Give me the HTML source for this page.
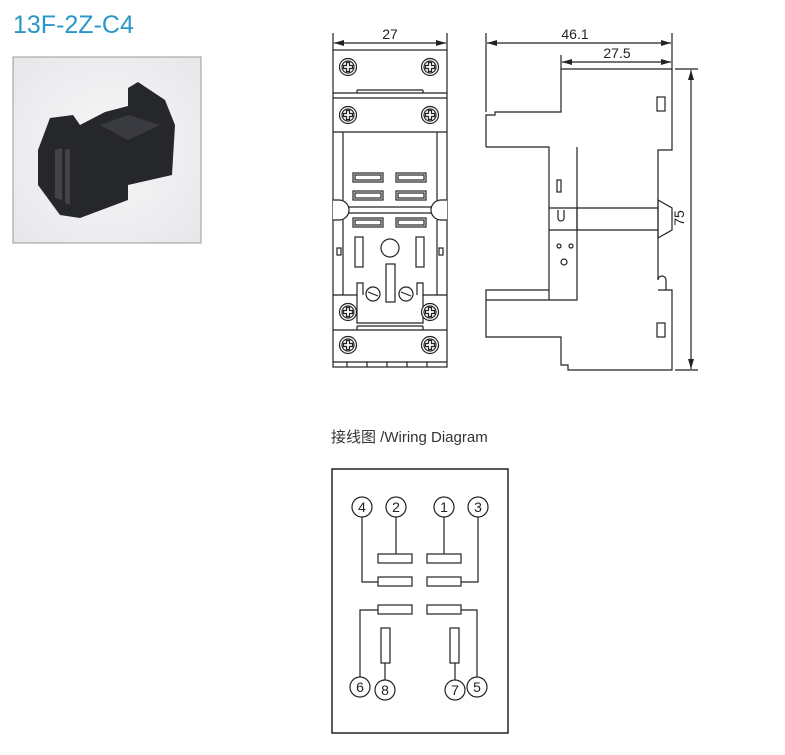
<!DOCTYPE html>
<html><head><style>
body{margin:0;background:#fff;width:785px;height:750px;overflow:hidden}
</style></head><body>
<svg width="785" height="750" xmlns="http://www.w3.org/2000/svg" font-family="Liberation Sans, sans-serif">
<text x="13" y="33" font-size="25" fill="#2a97c6">13F-2Z-C4</text>
<defs>
<radialGradient id="bg" cx="0.5" cy="0.5" r="0.7"><stop offset="0" stop-color="#f7f7f8"/><stop offset="1" stop-color="#e6e7e9"/></radialGradient>
<marker id="ar" viewBox="0 0 10 6" refX="10" refY="3" markerWidth="10" markerHeight="6" orient="auto-start-reverse" markerUnits="userSpaceOnUse"><path d="M0,0L10,3L0,6Z" fill="#222"/></marker>
</defs>
<rect x="13" y="57" width="188" height="186" fill="url(#bg)" stroke="#999" stroke-width="1"/>
<path d="M38,150 L50,118 L73,115 L80,125 L105,112 L128,106 L128,88 L138,82 L165,100 L175,125 L172,175 L128,185 L128,200 L80,218 L60,215 L38,185 Z" fill="#26272b"/>
<path d="M100,125 L128,115 L160,125 L128,140Z" fill="#3a3b40"/>
<path d="M55,150 L62,148 L62,200 L55,198Z M65,150 L70,149 L70,205 L65,203Z" fill="#444"/>
<g fill="none" stroke="#222" stroke-width="1.2">
<!-- front view -->
<line x1="333" y1="33" x2="333" y2="50"/><line x1="447" y1="33" x2="447" y2="50"/>
<line x1="334" y1="43" x2="446" y2="43" marker-start="url(#ar)" marker-end="url(#ar)"/>
<rect x="333" y="50" width="114" height="317"/>
<line x1="333" y1="93" x2="447" y2="93"/><line x1="333" y1="98" x2="447" y2="98"/>
<line x1="357" y1="93" x2="357" y2="90"/><line x1="357" y1="90" x2="423" y2="90"/><line x1="423" y1="90" x2="423" y2="93"/>
<line x1="333" y1="132" x2="447" y2="132"/>
<line x1="343" y1="132" x2="343" y2="200"/><line x1="437" y1="132" x2="437" y2="200"/>
<line x1="343" y1="220" x2="343" y2="295"/><line x1="437" y1="220" x2="437" y2="295"/>
<path d="M333,200 h6 a10,10 0 0 1 0,20 h-6" fill="#fff"/>
<path d="M447,200 h-6 a10,10 0 0 0 0,20 h6" fill="#fff"/>
<line x1="349" y1="207" x2="431" y2="207"/><line x1="349" y1="213" x2="431" y2="213"/>
<rect x="353" y="173" width="30" height="9"/><rect x="396" y="173" width="30" height="9"/>
<rect x="353" y="191" width="30" height="9"/><rect x="396" y="191" width="30" height="9"/>
<rect x="353" y="218" width="30" height="9"/><rect x="396" y="218" width="30" height="9"/>
<rect x="355" y="175" width="26" height="5"/><rect x="398" y="175" width="26" height="5"/>
<rect x="355" y="193" width="26" height="5"/><rect x="398" y="193" width="26" height="5"/>
<rect x="355" y="220" width="26" height="5"/><rect x="398" y="220" width="26" height="5"/>
<rect x="355" y="237" width="8" height="30"/><rect x="416" y="237" width="8" height="30"/>
<rect x="337" y="248" width="4" height="7"/><rect x="439" y="248" width="4" height="7"/>
<circle cx="390" cy="248" r="9"/>
<rect x="386" y="264" width="9" height="38"/>
<circle cx="373" cy="294" r="7"/><circle cx="406" cy="294" r="7"/>
<line x1="368" y1="292" x2="378" y2="296"/><line x1="401" y1="292" x2="411" y2="296"/>
<path d="M333,295 h24 v-12 h6 v12 M447,295 h-24 v-12 h-6 v12"/>
<path d="M357,295 v28 h66 v-28"/>
<line x1="333" y1="330" x2="447" y2="330"/><line x1="357" y1="330" x2="357" y2="326"/><line x1="357" y1="326" x2="423" y2="326"/><line x1="423" y1="326" x2="423" y2="330"/>
<line x1="333" y1="362" x2="447" y2="362"/>
<line x1="347" y1="362" x2="347" y2="367"/><line x1="367" y1="362" x2="367" y2="367"/><line x1="387" y1="362" x2="387" y2="367"/><line x1="407" y1="362" x2="407" y2="367"/><line x1="427" y1="362" x2="427" y2="367"/>
<!-- side view -->
<line x1="486" y1="33" x2="486" y2="112"/><line x1="672" y1="33" x2="672" y2="69"/>
<line x1="487" y1="43" x2="671" y2="43" marker-start="url(#ar)" marker-end="url(#ar)"/>
<line x1="561" y1="55" x2="561" y2="69"/>
<line x1="562" y1="62" x2="671" y2="62" marker-start="url(#ar)" marker-end="url(#ar)"/>
<line x1="675" y1="69" x2="698" y2="69"/><line x1="675" y1="370" x2="698" y2="370"/>
<line x1="691" y1="70" x2="691" y2="369" marker-start="url(#ar)" marker-end="url(#ar)"/>
<path d="M561,69 H672 V150 H658 V280 M658,290 H672 V370 H568 V365 H561 V337 H486 V290 H549 M486,147 V115 H495 V112 H561 V69"/>
<path d="M486,147 H549 V300 H577 V147 M549,300 H486 M577,147 V208 M577,230 V300"/>
<path d="M549,208 H577 V230 H549 M658,208 H577 M658,230 H577 M658,200 L672,208 V230 L658,238 Z"/>
<path d="M558,210 v8 a3,3 0 0 0 6,0 v-8"/>
<rect x="657" y="97" width="8" height="14"/><rect x="657" y="323" width="8" height="14"/>
<rect x="557" y="180" width="4" height="12"/>
<circle cx="559" cy="246" r="2"/><circle cx="571" cy="246" r="2"/><circle cx="564" cy="262" r="3"/>
<path d="M658,280 a4,4 0 0 1 8,0 V290"/>
<!-- wiring -->
<rect x="332" y="469" width="176" height="264" stroke-width="1.5"/>
<circle cx="362" cy="507" r="10"/><circle cx="396" cy="507" r="10"/><circle cx="444" cy="507" r="10"/><circle cx="478" cy="507" r="10"/>
<circle cx="360" cy="687" r="10"/><circle cx="385" cy="690" r="10"/><circle cx="455" cy="690" r="10"/><circle cx="477" cy="687" r="10"/>
<rect x="378" y="554" width="34" height="9"/><rect x="427" y="554" width="34" height="9"/>
<rect x="378" y="577" width="34" height="9"/><rect x="427" y="577" width="34" height="9"/>
<rect x="378" y="605" width="34" height="9"/><rect x="427" y="605" width="34" height="9"/>
<rect x="381" y="628" width="9" height="35"/><rect x="450" y="628" width="9" height="35"/>
<path d="M396,517V554 M444,517V554 M362,517V582H378 M478,517V582H461 M360,677V610H378 M477,677V610H461 M385,680V663 M455,680V663"/>
</g>
<g stroke="#222" stroke-width="1.2" fill="#fff">
<g transform="translate(348,67)"><circle r="8.5"/><circle r="6" fill="none"/><path d="M-1.5,-4.5h3v3h3v3h-3v3h-3v-3h-3v-3h3z"/></g>
<g transform="translate(430,67)"><circle r="8.5"/><circle r="6" fill="none"/><path d="M-1.5,-4.5h3v3h3v3h-3v3h-3v-3h-3v-3h3z"/></g>
<g transform="translate(348,115)"><circle r="8.5"/><circle r="6" fill="none"/><path d="M-1.5,-4.5h3v3h3v3h-3v3h-3v-3h-3v-3h3z"/></g>
<g transform="translate(430,115)"><circle r="8.5"/><circle r="6" fill="none"/><path d="M-1.5,-4.5h3v3h3v3h-3v3h-3v-3h-3v-3h3z"/></g>
<g transform="translate(348,312)"><circle r="8.5"/><circle r="6" fill="none"/><path d="M-1.5,-4.5h3v3h3v3h-3v3h-3v-3h-3v-3h3z"/></g>
<g transform="translate(430,312)"><circle r="8.5"/><circle r="6" fill="none"/><path d="M-1.5,-4.5h3v3h3v3h-3v3h-3v-3h-3v-3h3z"/></g>
<g transform="translate(348,345)"><circle r="8.5"/><circle r="6" fill="none"/><path d="M-1.5,-4.5h3v3h3v3h-3v3h-3v-3h-3v-3h3z"/></g>
<g transform="translate(430,345)"><circle r="8.5"/><circle r="6" fill="none"/><path d="M-1.5,-4.5h3v3h3v3h-3v3h-3v-3h-3v-3h3z"/></g>
</g>
<g fill="#222" font-size="14" text-anchor="middle">
<text x="390" y="39">27</text><text x="575" y="39">46.1</text><text x="617" y="58">27.5</text>
<text transform="translate(684,218) rotate(-90)">75</text>
</g>
<text x="331" y="442" font-size="15" fill="#333" font-family="Liberation Sans, Noto Sans CJK SC, sans-serif">接线图 /Wiring Diagram</text>
<g fill="#222" font-size="14" text-anchor="middle">
<text x="362" y="512">4</text><text x="396" y="512">2</text><text x="444" y="512">1</text><text x="478" y="512">3</text>
<text x="360" y="692">6</text><text x="385" y="695">8</text><text x="455" y="695">7</text><text x="477" y="692">5</text>
</g>
</svg>
</body></html>
